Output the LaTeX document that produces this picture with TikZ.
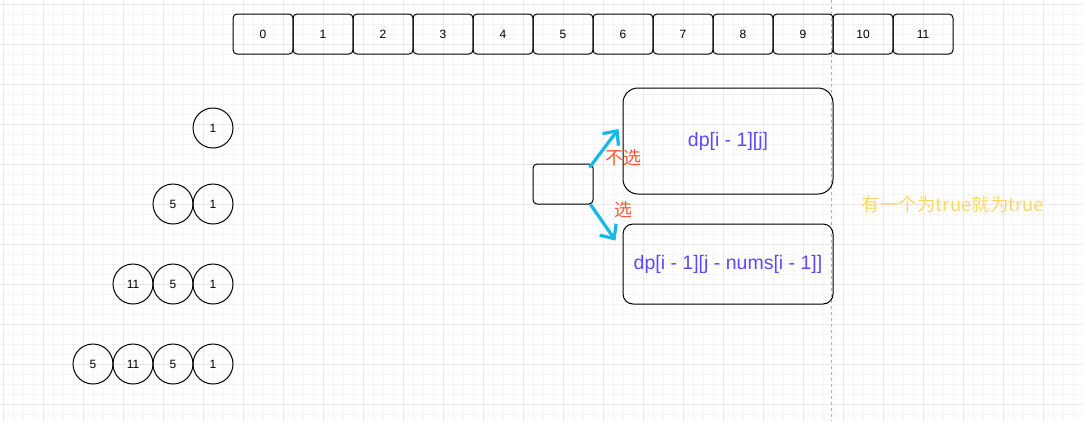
\documentclass[tikz,border=0pt]{standalone}
\usepackage{fontspec}
\setmainfont{Liberation Sans}
\newfontfamily\cjk{Noto Sans CJK SC}
\usetikzlibrary{arrows.meta,positioning}

\definecolor{gridminor}{RGB}{245,245,245}
\definecolor{gridmajor}{RGB}{232,232,232}
\definecolor{pickblue}{RGB}{22,184,234}
\definecolor{pickred}{RGB}{255,90,55}
\definecolor{dptext}{RGB}{92,72,255}
\definecolor{notegold}{RGB}{255,215,102}

\begin{document}
\begin{tikzpicture}[x=1pt,y=-1pt,
    cell/.style={draw,line width=1pt,outer sep=0pt,rounded corners=4pt,minimum width=60pt,minimum height=40pt,inner sep=0pt,font=\fontsize{12}{14}\selectfont},
    ball/.style={draw,line width=1pt,outer sep=0pt,circle,minimum size=40pt,inner sep=0pt,font=\fontsize{12}{14}\selectfont},
    dpbox/.style={draw,line width=1pt,minimum width=210pt,inner sep=0pt,text=dptext,font=\fontsize{19.5}{22}\selectfont},
    pick/.style={draw=pickblue,line width=3.2pt,-{Straight Barb[length=11pt,width=20pt,line width=3.2pt]}},
    choice/.style={text=pickred,font=\cjk\fontsize{18}{20}\selectfont}]
      \useasboundingbox (0,0) rectangle (1083,421);
      % background grid
      \foreach \gx in {3,13,...,1083} \draw[gridminor] (\gx,0) -- (\gx,421);
      \foreach \gy in {4,14,...,421} \draw[gridminor] (0,\gy) -- (1083,\gy);
      \foreach \gx in {3,43,...,1083} \draw[gridmajor] (\gx,0) -- (\gx,421);
      \foreach \gy in {4,44,...,421} \draw[gridmajor] (0,\gy) -- (1083,\gy);
      \draw[gray!60,dash pattern=on 3pt off 3pt] (831,0) -- (831,421);

      % index row
      \node[cell] (b0) at (263,34) {0};
      \node[cell] (b1)[right=0pt of b0] {1};
      \node[cell] (b2)[right=0pt of b1] {2};
      \node[cell] (b3)[right=0pt of b2] {3};
      \node[cell] (b4)[right=0pt of b3] {4};
      \node[cell] (b5)[right=0pt of b4] {5};
      \node[cell] (b6)[right=0pt of b5] {6};
      \node[cell] (b7)[right=0pt of b6] {7};
      \node[cell] (b8)[right=0pt of b7] {8};
      \node[cell] (b9)[right=0pt of b8] {9};
      \node[cell] (b10)[right=0pt of b9] {10};
      \node[cell] (b11)[right=0pt of b10] {11};

      % nums, one more each row
      \node[ball] (r1a) at (213,128) {1};
      \node[ball] (r2a) at (213,204) {1};
      \node[ball] (r2b)[left=0pt of r2a] {5};
      \node[ball] (r3a) at (213,284) {1};
      \node[ball] (r3b)[left=0pt of r3a] {5};
      \node[ball] (r3c)[left=0pt of r3b] {11};
      \node[ball] (r4a) at (213,364) {1};
      \node[ball] (r4b)[left=0pt of r4a] {5};
      \node[ball] (r4c)[left=0pt of r4b] {11};
      \node[ball] (r4d)[left=0pt of r4c] {5};

      % choice
      \node[draw,line width=1pt,rounded corners=4pt,minimum width=60pt,minimum height=40pt] (S) at (563,184) {};
      \node[dpbox,rounded corners=15pt,minimum height=106pt] (T) at (728,141) {dp[i - 1][j]};
      \node[dpbox,rounded corners=10pt,minimum height=80pt] (U) at (728,264) {dp[i - 1][j - nums[i - 1]]};
      \draw[pick] ([xshift=-4pt,yshift=-4pt]S.north east) -- ([xshift=-4pt,yshift=12pt]T.west);
      \draw[pick] ([xshift=-3pt]S.south east) -- ([xshift=-7pt,yshift=-17pt]U.north west);
      \node[choice] (no) at (623,158) {不选};
      \node[choice] (yes) at (623,210) {选};

      \node[text=notegold,font=\cjk\fontsize{18.5}{21}\selectfont] (note) at (953,204) {有一个为true就为true};
    \end{tikzpicture}
\end{document}
